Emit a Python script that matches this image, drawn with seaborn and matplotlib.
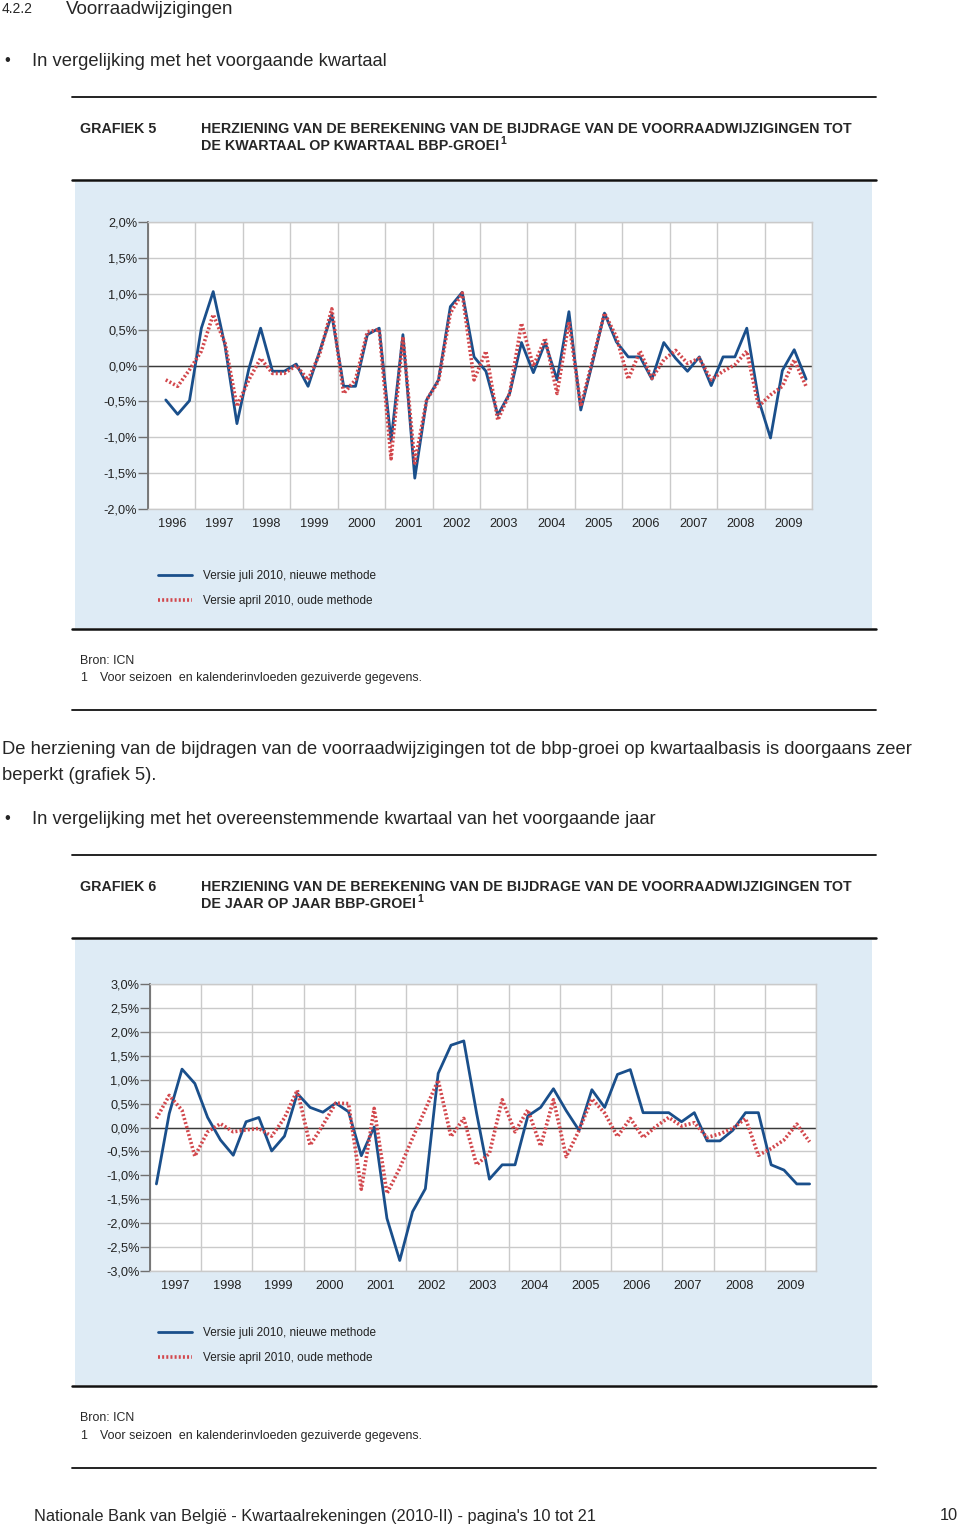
import numpy as np
import pandas as pd
import matplotlib
matplotlib.use("Agg")
import matplotlib.pyplot as plt
import seaborn as sns
from matplotlib.lines import Line2D
from matplotlib.patches import Rectangle
from matplotlib.ticker import FuncFormatter, MultipleLocator

# ---------------- data ----------------
series_new_label = "Versie juli 2010, nieuwe methode"
series_old_label = "Versie april 2010, oude methode"

# Grafiek 5: kwartaal op kwartaal, 1996Q2 .. 2009Q4
g5_start = (1996, 2)
g5_new = [-0.48, -0.68, -0.49,
          0.52, 1.03, 0.27, -0.81,
          -0.05, 0.52, -0.08, -0.08,
          0.02, -0.29, 0.21, 0.71,
          -0.29, -0.29, 0.43, 0.52,
          -1.05, 0.43, -1.57, -0.48,
          -0.20, 0.82, 1.02, 0.12,
          -0.08, -0.69, -0.39, 0.32,
          -0.10, 0.32, -0.20, 0.75,
          -0.62, 0.05, 0.73, 0.33,
          0.12, 0.12, -0.19, 0.32,
          0.10, -0.08, 0.12, -0.28,
          0.12, 0.12, 0.52, -0.48,
          -1.01, -0.07, 0.22, -0.19]
g5_old = [-0.20, -0.29, -0.06,
          0.20, 0.71, 0.31, -0.57,
          -0.20, 0.10, -0.11, -0.11,
          0.00, -0.20, 0.17, 0.79,
          -0.39, -0.20, 0.47, 0.50,
          -1.30, 0.40, -1.36, -0.48,
          -0.22, 0.73, 1.01, -0.20,
          0.20, -0.76, -0.39, 0.59,
          -0.01, 0.38, -0.39, 0.61,
          -0.57, 0.08, 0.73, 0.40,
          -0.19, 0.20, -0.18, 0.08,
          0.21, 0.03, 0.10, -0.20,
          -0.08, 0.01, 0.20, -0.57,
          -0.41, -0.29, 0.08, -0.29]
g5_years = list(range(1996, 2010))
g5_yticks = [-2.0, -1.5, -1.0, -0.5, 0.0, 0.5, 1.0, 1.5, 2.0]

# Grafiek 6: jaar op jaar, 1997Q1 .. 2009Q4
g6_start = (1997, 1)
g6_new = [-1.18, 0.29, 1.22, 0.92,
          0.21, -0.26, -0.58, 0.12,
          0.21, -0.49, -0.18, 0.71,
          0.42, 0.32, 0.51, 0.33,
          -0.59, 0.01, -1.90, -2.78,
          -1.76, -1.28, 1.13, 1.72,
          1.81, 0.30, -1.08, -0.78,
          -0.78, 0.24, 0.42, 0.81,
          0.35, -0.06, 0.79, 0.42,
          1.11, 1.21, 0.31, 0.31,
          0.31, 0.12, 0.31, -0.28,
          -0.28, -0.06, 0.31, 0.31,
          -0.78, -0.89, -1.18, -1.18]
g6_old = [0.19, 0.67, 0.36, -0.60,
          -0.09, 0.08, -0.09, -0.05,
          -0.02, -0.18, 0.20, 0.78,
          -0.37, 0.05, 0.51, 0.50,
          -1.29, 0.40, -1.38, -0.85,
          -0.22, 0.38, 0.99, -0.19,
          0.19, -0.78, -0.54, 0.58,
          -0.09, 0.37, -0.39, 0.58,
          -0.61, -0.06, 0.60, 0.30,
          -0.19, 0.19, -0.21, 0.02,
          0.21, 0.03, 0.10, -0.21,
          -0.13, -0.02, 0.19, -0.58,
          -0.44, -0.26, 0.07, -0.30]
g6_years = list(range(1997, 2010))
g6_yticks = [-3.0, -2.5, -2.0, -1.5, -1.0, -0.5, 0.0, 0.5, 1.0, 1.5, 2.0, 2.5, 3.0]

# ---------------- style ----------------
sns.set_style("white")
plt.rcParams['font.family'] = ['Liberation Sans', 'DejaVu Sans']

W, H = 960, 1527
fig = plt.figure(figsize=(W / 100, H / 100), dpi=100)
fig.patch.set_facecolor("white")

BLUE = "#1a4f8b"
RED = "#d2474c"
PANEL = "#deebf5"
GRID = "#cacaca"
BODY = 13.2
HEAD = 10.3
NOTE = 8.9
TICK = 9.2


def fx(x):
    return x / W


def fy(y):
    return 1 - y / H


def ftext(x, y, s, **kw):
    kw.setdefault("va", "center")
    kw.setdefault("ha", "left")
    return fig.text(fx(x), fy(y), s, **kw)


def hrule(y, x0=72, x1=876, lw=1.6, color="#111111"):
    fig.add_artist(Line2D([fx(x0), fx(x1)], [fy(y), fy(y)], color=color, lw=lw,
                          transform=fig.transFigure))


def panel(y0, y1, x0=75, x1=872):
    fig.add_artist(Rectangle((fx(x0), fy(y1)), fx(x1) - fx(x0), fy(y0) - fy(y1),
                             transform=fig.transFigure, facecolor=PANEL,
                             edgecolor="none", zorder=0))


def make_df(start, new, old):
    y0, q0 = start
    n = len(new)
    qidx = np.arange(n) + (q0 - 1)
    years = y0 + qidx // 4
    quarters = qidx % 4 + 1
    xpos = years + (quarters - 0.5) / 4.0
    df = pd.DataFrame({
        "x": np.concatenate([xpos, xpos]),
        "value": np.concatenate([new, old]),
        "serie": [series_new_label] * n + [series_old_label] * n,
    })
    return df


def pct(v, _):
    return ("%.1f%%" % v).replace(".", ",")


def draw_chart(box, start, new, old, years, yticks, legend_y, ylab_pad):
    left, right, top, bottom = box
    ax = fig.add_axes([fx(left), fy(bottom), fx(right) - fx(left), fy(top) - fy(bottom)])
    ax.set_facecolor("white")
    df = make_df(start, new, old)
    sns.lineplot(data=df[df.serie == series_new_label], x="x", y="value",
                 color=BLUE, lw=2.0, ax=ax, label=series_new_label, zorder=3)
    sns.lineplot(data=df[df.serie == series_old_label], x="x", y="value",
                 color=RED, lw=2.6, ax=ax, label=series_old_label, zorder=4,
                 linestyle=(0, (0.55, 0.6)))
    ax.set_xlim(years[0], years[-1] + 1)
    ax.set_ylim(yticks[0], yticks[-1])
    ax.set_xlabel("")
    ax.set_ylabel("")
    ax.set_yticks(yticks)
    ax.yaxis.set_major_formatter(FuncFormatter(pct))
    ax.set_xticks([y + 0.5 for y in years])
    ax.set_xticklabels([str(y) for y in years])
    ax.xaxis.set_minor_locator(MultipleLocator(1))
    ax.grid(False)
    ax.grid(axis="x", which="minor", color=GRID, lw=1.0)
    ax.grid(axis="y", which="major", color=GRID, lw=1.0)
    ax.axhline(0, color="#3a3a3a", lw=1.0, zorder=2)
    ax.tick_params(axis="y", which="major", direction="out", length=7, width=1.0,
                   color="#707070", pad=ylab_pad, labelsize=TICK, labelcolor="#222222", left=True)
    ax.tick_params(axis="x", which="both", length=0, pad=6.5, labelsize=TICK, labelcolor="#222222")
    for s in ["top", "right", "bottom"]:
        ax.spines[s].set_visible(True)
        ax.spines[s].set_color(GRID)
        ax.spines[s].set_linewidth(1.0)
    ax.spines["left"].set_color("#707070")
    ax.spines["left"].set_linewidth(1.3)
    leg = ax.legend(loc="upper left", bbox_to_anchor=(fx(158), fy(legend_y)),
                    bbox_transform=fig.transFigure, frameon=False, fontsize=8.5,
                    handlelength=2.9, handletextpad=0.95, labelspacing=1.12,
                    borderpad=0, borderaxespad=0)
    for t in leg.get_texts():
        t.set_color("#222222")
    return ax


# ---------------- page text ----------------
ftext(2, 9, "4.2.2", fontsize=10)
ftext(66, 9, "Voorraadwijzigingen", fontsize=13.5)

ftext(4, 61, "\u2022", fontsize=12)
ftext(32, 61, "In vergelijking met het voorgaande kwartaal", fontsize=BODY)

hrule(97, lw=1.3)
ftext(80, 129, "GRAFIEK 5", fontsize=HEAD, fontweight="bold")
ftext(201, 129, "HERZIENING VAN DE BEREKENING VAN DE BIJDRAGE VAN DE VOORRAADWIJZIGINGEN TOT",
      fontsize=HEAD, fontweight="bold")
t5 = ftext(201, 145.5, "DE KWARTAAL OP KWARTAAL BBP-GROEI", fontsize=HEAD, fontweight="bold")
hrule(180, lw=1.8)
panel(182, 628)
hrule(629, lw=1.8)
ftext(80, 661, "Bron: ICN", fontsize=NOTE)
ftext(80, 678, "1", fontsize=NOTE)
ftext(100, 678, "Voor seizoen  en kalenderinvloeden gezuiverde gegevens.", fontsize=NOTE)
hrule(710, lw=1.3)

ftext(2, 749, "De herziening van de bijdragen van de voorraadwijzigingen tot de bbp-groei op kwartaalbasis is doorgaans zeer",
      fontsize=BODY)
ftext(2, 775, "beperkt (grafiek 5).", fontsize=BODY)
ftext(4, 819, "\u2022", fontsize=12)
ftext(32, 819, "In vergelijking met het overeenstemmende kwartaal van het voorgaande jaar", fontsize=BODY)

hrule(855, lw=1.3)
ftext(80, 887, "GRAFIEK 6", fontsize=HEAD, fontweight="bold")
ftext(201, 887, "HERZIENING VAN DE BEREKENING VAN DE BIJDRAGE VAN DE VOORRAADWIJZIGINGEN TOT",
      fontsize=HEAD, fontweight="bold")
t6 = ftext(201, 903.5, "DE JAAR OP JAAR BBP-GROEI", fontsize=HEAD, fontweight="bold")
hrule(938, lw=1.8)
panel(940, 1385)
hrule(1386, lw=1.8)
ftext(80, 1418, "Bron: ICN", fontsize=NOTE)
ftext(80, 1436, "1", fontsize=NOTE)
ftext(100, 1436, "Voor seizoen  en kalenderinvloeden gezuiverde gegevens.", fontsize=NOTE)
hrule(1468, lw=1.3)

ftext(34, 1516, "Nationale Bank van Belgi\u00eb - Kwartaalrekeningen (2010-II) - pagina's 10 tot 21",
      fontsize=11.8)
ftext(958, 1516, "10", fontsize=11.8, ha="right")

# ---------------- charts ----------------
draw_chart((148, 812, 222, 509), g5_start, g5_new, g5_old, g5_years, g5_yticks, 570, 0.8)
draw_chart((150, 816, 984, 1271), g6_start, g6_new, g6_old, g6_years, g6_yticks, 1327, 0.5)

# superscripts after titles
fig.canvas.draw()
r = fig.canvas.get_renderer()
for t, yy in [(t5, 141.5), (t6, 899.5)]:
    bb = t.get_window_extent(renderer=r)
    fig.text(bb.x1 / W + 1.5 / W, fy(yy), "1", fontsize=7.5, fontweight="bold",
             va="center", ha="left")

fig.savefig("out.png", dpi=100, facecolor="white")
